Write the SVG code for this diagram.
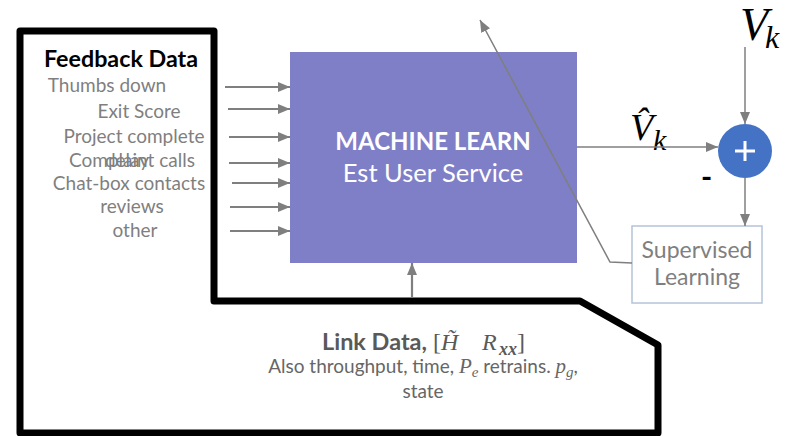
<svg xmlns="http://www.w3.org/2000/svg" width="788" height="436" viewBox="0 0 788 436">
  <defs>
    <marker id="ah" viewBox="0 0 12 10" refX="12" refY="5" markerWidth="12" markerHeight="10" markerUnits="userSpaceOnUse" orient="auto">
      <path d="M0,0 L12,5 L0,10 Z" fill="#7f7f7f"/>
    </marker>
    <style>
      .sans { font-family: Lato, "Open Sans", "Liberation Sans", sans-serif; }
      .item { font-size: 19px; fill: #7f7f7f; text-anchor: middle; }
      .math { font-family: "Liberation Serif", "DejaVu Serif", serif; font-style: italic; }
      .upright { font-style: normal; }
      .conn { stroke: #7f7f7f; fill: none; }
      .in { stroke-width: 2.2; }
    </style>
  </defs>

  <rect width="788" height="436" fill="#ffffff"/>

  <!-- heavy outline enclosing the data sources -->
  <g id="outline">
    <path d="M20,31 L214,31 L214,301 L580,301 L658,345 L658,433 L20,433 Z" fill="none" stroke="#000" stroke-width="7" stroke-linejoin="round"/>
  </g>

  <!-- feedback data list -->
  <g id="feedback" class="sans">
    <text x="44" y="67" font-size="22" font-weight="bold" fill="#000" textLength="154" lengthAdjust="spacingAndGlyphs">Feedback Data</text>
    <text class="item" x="107" y="92">Thumbs down</text>
    <text class="item" x="139" y="118">Exit Score</text>
    <text class="item" x="134" y="143">Project complete</text>
    <text class="item" x="132" y="167">Complaint calls</text>
    <text class="item" x="127" y="167">delay</text>
    <text class="item" x="129" y="190">Chat-box contacts</text>
    <text class="item" x="132" y="213">reviews</text>
    <text class="item" x="135" y="237">other</text>
  </g>

  <!-- machine learning block -->
  <g id="ml" class="sans">
    <rect x="290" y="52" width="287" height="211" fill="#7f7fc8"/>
    <text x="433" y="150" font-size="24" font-weight="bold" fill="#fff" text-anchor="middle">MACHINE LEARN</text>
    <text x="433" y="182" font-size="25.5" fill="#fff" text-anchor="middle">Est User Service</text>
  </g>

  <!-- summing junction -->
  <g id="sum">
    <circle cx="745" cy="151" r="27" fill="#4472c4"/>
    <path d="M745,141 V161 M735,151 H755" stroke="#fff" stroke-width="3"/>
  </g>

  <!-- supervised learning block -->
  <g id="supervised" class="sans">
    <rect x="632" y="226" width="130" height="77" fill="#fff" stroke="#b4c4d8" stroke-width="1.5"/>
    <text x="697" y="258" font-size="23" fill="#7f7f7f" text-anchor="middle">Supervised</text>
    <text x="697" y="285" font-size="23" fill="#7f7f7f" text-anchor="middle">Learning</text>
  </g>

  <!-- link data description -->
  <g id="linkdata">
    <text x="322" y="350" class="sans" font-size="22" font-weight="bold" fill="#595959" textLength="105" lengthAdjust="spacingAndGlyphs">Link Data,</text>
    <text x="433" y="350" class="math upright" font-size="24" fill="#595959">[</text>
    <text x="441" y="350" class="math" font-size="24" fill="#595959">H̃</text>
    <text x="482" y="350" class="math" font-size="24" fill="#595959">R</text>
    <text x="499" y="355" class="math" font-size="18" font-weight="bold" fill="#595959">xx</text>
    <text x="517" y="350" class="math upright" font-size="24" fill="#595959">]</text>
    <text x="423" y="373" class="sans" font-size="19" fill="#666" text-anchor="middle">Also throughput, time, <tspan class="math" font-size="21">P</tspan><tspan class="math" font-size="15" dy="4">e</tspan><tspan dy="-4"> retrains. </tspan><tspan class="math" font-size="21">p</tspan><tspan class="math" font-size="15" dy="4">g</tspan><tspan dy="-4">,</tspan></text>
    <text x="423" y="398" class="sans" font-size="19" fill="#666" text-anchor="middle">state</text>
  </g>

  <!-- signal labels -->
  <g id="labels">
    <text x="740" y="40" class="math" font-size="46" fill="#000">V</text>
    <text x="765" y="48" class="math" font-size="32" fill="#000">k</text>
    <text x="630" y="140" class="math" font-size="38" fill="#000">V̂</text>
    <text x="653" y="150" class="math" font-size="30" fill="#000">k</text>
    <text x="701" y="188" class="sans" font-size="30" font-weight="bold" fill="#000">-</text>
  </g>

  <!-- connectors -->
  <g id="connectors" class="conn">
    <line class="in" x1="225" y1="87" x2="290" y2="87" marker-end="url(#ah)"/>
    <line class="in" x1="228" y1="109" x2="290" y2="109" marker-end="url(#ah)"/>
    <line class="in" x1="229" y1="137" x2="290" y2="137" marker-end="url(#ah)"/>
    <line class="in" x1="229" y1="163" x2="290" y2="163" marker-end="url(#ah)"/>
    <line class="in" x1="232" y1="183" x2="290" y2="183" marker-end="url(#ah)"/>
    <line class="in" x1="230" y1="207" x2="290" y2="207" marker-end="url(#ah)"/>
    <line class="in" x1="230" y1="231" x2="290" y2="231" marker-end="url(#ah)"/>
    <line class="in" x1="412" y1="298" x2="412" y2="263" marker-end="url(#ah)"/>
    <line stroke-width="1.5" x1="577" y1="147" x2="718" y2="147" marker-end="url(#ah)"/>
    <line stroke-width="1.5" x1="745" y1="47" x2="745" y2="124" marker-end="url(#ah)"/>
    <line stroke-width="1.5" x1="745" y1="178" x2="745" y2="226" marker-end="url(#ah)"/>
    <polyline stroke-width="1.5" points="632,263 610,262 480,20" marker-end="url(#ah)"/>
  </g>
</svg>
